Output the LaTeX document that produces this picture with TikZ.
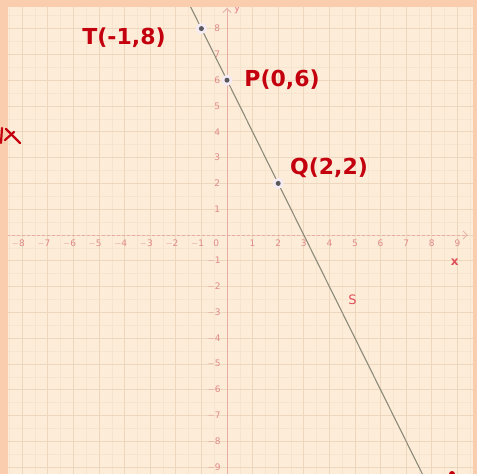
\documentclass[tikz,border=0pt]{standalone}
\usepackage{fontspec}
\setmainfont{DejaVu Sans}
\usetikzlibrary{calc,arrows.meta}
\definecolor{border}{HTML}{F9CDAE}
\definecolor{paper}{HTML}{FCECD8}
\definecolor{gridmaj}{HTML}{EDD8BF}
\definecolor{gridmin}{HTML}{F6E4CE}
\definecolor{axislbl}{HTML}{E08A8A}
\definecolor{axisline}{HTML}{E7ADA5}
\definecolor{plotline}{HTML}{8C8A78}
\definecolor{ink}{HTML}{C4000F}
\definecolor{pinkred}{HTML}{E0505A}
\tikzset{
  ticklbl/.style={text=axislbl, font=\fontsize{9}{9}\selectfont, inner sep=0pt},
  hand/.style={text=ink, font=\fontsize{22}{22}\selectfont\bfseries, inner sep=0pt},
  ptdot/.style={circle, fill=black!65, inner sep=0pt, minimum size=5pt},
  halo/.style={circle, fill=violet!8, inner sep=0pt, minimum size=11pt},
  inkstroke/.style={draw=ink, line width=2.2pt, line cap=round, line join=round}
}
\begin{document}
\begin{tikzpicture}[x=1pt, y=-1pt]
\useasboundingbox (0,0) rectangle (477,474);
\fill[border] (0,0) rectangle (477,474);
\fill[paper] (8,7) rectangle (473,474);
\begin{scope}
\clip (8,7) rectangle (473,474);
\begin{scope}[shift={(227,235)}, x=25.6pt, y=25.8pt]
  % minor grid
  \foreach \i in {-9,...,9} {
    \draw[gridmin, line width=0.6pt] (\i+0.5,-10) -- (\i+0.5,10);
    \draw[gridmin, line width=0.6pt] (-10,\i+0.5) -- (10,\i+0.5);
  }
  % major grid
  \foreach \i in {-9,...,10} {
    \draw[gridmaj, line width=0.8pt] (\i,-10) -- (\i,10);
    \draw[gridmaj, line width=0.8pt] (-10,\i) -- (10,\i);
  }
  % axes
  \coordinate (O) at (0,0);
  \coordinate (xstart) at (-9,0);
  \coordinate (xend) at (9.4,0);
  \coordinate (ystart) at (0,-10);
  \coordinate (yend) at (0,8.8);
  \draw[axisline, line width=0.8pt, densely dashed, -{Straight Barb[length=4pt]}] (xstart) -- (xend);
  \draw[axisline, line width=0.8pt, -{Straight Barb[length=4pt]}] (ystart) -- (yend);
  \node[text=pinkred!70, font=\fontsize{11}{11}\selectfont] (ylbl) at (0.4,8.75) {y};
  \node[text=pinkred, font=\fontsize{12}{12}\selectfont\bfseries] (xlbl) at (8.9,-1.05) {x};
  % tick labels
  \foreach \i in {1,...,8} \node[ticklbl] at (-\i-0.15,-0.33) {$-$\i};
  \node[ticklbl] (zero) at (-0.42,-0.33) {0};
  \foreach \i in {1,...,9} \node[ticklbl] at (\i,-0.33) {\i};
  \foreach \i in {1,...,8} \node[ticklbl] at (-0.38,\i) {\i};
  \foreach \i in {1,...,9} \node[ticklbl] at (-0.5,-\i) {$-$\i};
  % points
  \coordinate (T) at (-1,8);
  \coordinate (P) at (0,6);
  \coordinate (Q) at (2,2);
  \draw[plotline, line width=1.1pt] ($(P)!-0.9!(Q)$) -- ($(P)!4.0!(Q)$);
  \foreach \p in {T,P,Q} { \node[halo] at (\p) {}; \node[ptdot] at (\p) {}; }
  \node[text=pinkred, font=\fontsize{13}{13}\selectfont] (slbl) at (4.9,-2.5) {S};
\end{scope}
\end{scope}
% handwritten labels
\node[hand] (tlbl) at (124,38) {T(-1,8)};
\node[hand] (plbl) at (282,80) {P(0,6)};
\node[hand] (qlbl) at (329,168) {Q(2,2)};
% stray ink marks
\draw[inkstroke] (2,128) -- (1,143);
\draw[inkstroke] (6,129) -- (20,143);
\draw[inkstroke] (5,140) -- (14,132);
\fill[ink] (452,474) circle (3pt);
\end{tikzpicture}
\end{document}
